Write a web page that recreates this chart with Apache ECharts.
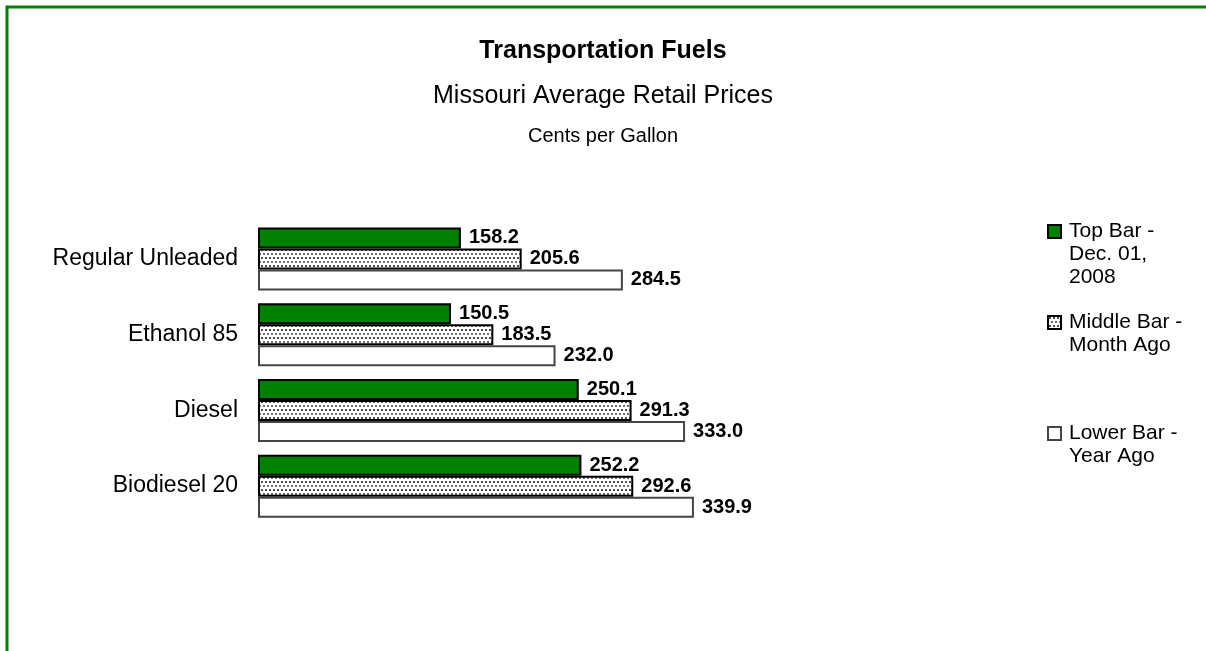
<!DOCTYPE html>
<html>
<head>
<meta charset="utf-8">
<script src="https://cdn.jsdelivr.net/npm/echarts@6/dist/echarts.min.js"></script>
<style>
  html, body { margin: 0; padding: 0; background: #fff; }
  #chart { width: 1206px; height: 651px; }
</style>
</head>
<body>
<div id="chart"></div>
<script>
"use strict";
var categories = ['Regular Unleaded', 'Ethanol 85', 'Diesel', 'Biodiesel 20'];
var topBar = [158.2, 150.5, 250.1, 252.2];     // Dec. 01, 2008
var middleBar = [205.6, 183.5, 291.3, 292.6];  // month ago
var lowerBar = [284.5, 232.0, 333.0, 339.9];   // year ago
var seriesNames = ['Top Bar - Dec. 01, 2008', 'Middle Bar - Month Ago', 'Lower Bar - Year Ago'];
// leading blank lines keep the icon next to the first text line
var legendTexts = ['\n\nTop Bar -\nDec. 01,\n2008', '\nMiddle Bar -\nMonth Ago', '\nLower Bar -\nYear Ago'];

var FONT = 'Arial, "Liberation Sans", sans-serif';

/**
 * dotted fill used by the middle bar
 */
function makeDots() {
  var c = document.createElement('canvas');
  c.width = 8;
  c.height = 8;
  var ctx = c.getContext('2d');
  ctx.fillStyle = '#fff';
  ctx.fillRect(0, 0, 8, 8);
  ctx.fillStyle = '#505050';
  ctx.fillRect(1, 1, 2, 2);
  ctx.fillRect(5, 1, 2, 2);
  ctx.fillStyle = '#707070';
  ctx.fillRect(3, 5, 2, 2);
  ctx.fillRect(7, 5, 1, 2);
  ctx.fillRect(0, 5, 1, 2);
  return c;
}

var valueLabel = {
  show: true,
  position: 'right',
  distance: 8,
  formatter: function (p) { return p.value.toFixed(1); },
  fontFamily: FONT,
  fontWeight: 'bold',
  fontSize: 20,
  color: '#000'
};

function legendFor(i, top) {
  return {
    data: [{ name: seriesNames[i], icon: 'rect' }],
    left: 1047,
    top: top,
    orient: 'vertical',
    padding: 0,
    itemWidth: 13,
    itemHeight: 13,
    itemGap: 0,
    selectedMode: false,
    formatter: function () { return legendTexts[i]; },
    textStyle: { fontFamily: FONT, fontSize: 21, color: '#000', lineHeight: 23, padding: [0, 0, 0, 3] }
  };
}

var chart = echarts.init(document.getElementById('chart'));
chart.setOption({
  backgroundColor: '#fff',
  animation: false,
  title: [
    { text: 'Transportation Fuels', left: 'center', top: 34,
      textStyle: { fontFamily: FONT, fontWeight: 'bold', fontSize: 25, color: '#000' } },
    { text: 'Missouri Average Retail Prices', left: 'center', top: 79,
      textStyle: { fontFamily: FONT, fontWeight: 'normal', fontSize: 25, color: '#000' } },
    { text: 'Cents per Gallon', left: 'center', top: 121,
      textStyle: { fontFamily: FONT, fontWeight: 'normal', fontSize: 20, color: '#000' } }
  ],
  legend: [legendFor(0, 174), legendFor(1, 288), legendFor(2, 399)],
  grid: { left: 258, top: 221, width: 513, height: 303 },
  xAxis: {
    type: 'value', min: 0, max: 400, show: false
  },
  yAxis: {
    type: 'category',
    data: categories,
    inverse: true,
    axisLine: { show: false },
    axisTick: { show: false },
    axisLabel: { margin: 20, fontFamily: FONT, fontSize: 23, color: '#000' }
  },
  series: [
    { name: seriesNames[0], type: 'bar', data: topBar, barWidth: 21, barGap: 0,
      itemStyle: { color: '#008000', borderColor: '#000', borderWidth: 2 },
      label: valueLabel },
    { name: seriesNames[1], type: 'bar', data: middleBar, barWidth: 21, barGap: 0,
      itemStyle: { color: { image: makeDots(), repeat: 'repeat' }, borderColor: '#000', borderWidth: 2 },
      label: valueLabel },
    { name: seriesNames[2], type: 'bar', data: lowerBar, barWidth: 21, barGap: 0,
      itemStyle: { color: '#fff', borderColor: '#444', borderWidth: 2 },
      label: valueLabel }
  ],
  graphic: [
    { type: 'polyline', silent: true,
      shape: { points: [[7, 660], [7, 7], [1215, 7]] },
      style: { stroke: '#008000', lineWidth: 3, fill: null } }
  ]
});
</script>
</body>
</html>
